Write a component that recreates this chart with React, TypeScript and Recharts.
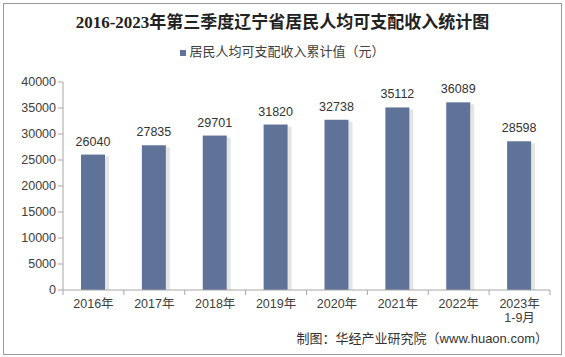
import React from 'react'
import { BarChart, Bar, XAxis, YAxis, LabelList } from 'recharts'

const years = ['2016年', '2017年', '2018年', '2019年', '2020年', '2021年', '2022年', '2023年\n1-9月']
const income = [26040, 27835, 29701, 31820, 32738, 35112, 36089, 28598]
const yTicks = [0, 5000, 10000, 15000, 20000, 25000, 30000, 35000, 40000]

const data = years.map((y, i) => ({ year: y, value: income[i] }))

const cjk = '"Liberation Sans", Arial, "Noto Sans CJK SC", sans-serif'

const ShadowBar = (props: any) =>
{
    const { x, y, width, height, fill } = props
    if (!height || height <= 0) return null
    return (
        <g>
            <rect x={x + width} y={y + 2} width={4} height={height - 2} fill="#d3d3d3" opacity={0.6} />
            <rect x={x} y={y} width={width} height={height} fill={fill} />
        </g>
    )
}

const XTick = (props: any) =>
{
    const { x, y, payload, index } = props
    const half = 60.875 / 2
    const lines = String(payload.value).split('\n')
    return (
        <g>
            <line x1={x - half} x2={x - half} y1={y - 8} y2={y - 3} stroke="#a6a6a6" />
            {index === years.length - 1 && (
                <line x1={x + half} x2={x + half} y1={y - 8} y2={y - 3} stroke="#a6a6a6" />
            )}
            {lines.map((t, i) => (
                <text key={i} x={x} y={y + 10 + i * 14} textAnchor="middle" fill="#404040" fontSize={12.5} fontFamily={cjk}>
                    {t}
                </text>
            ))}
        </g>
    )
}

export default function App()
{
    return (
        <div style={{ position: 'absolute', left: 0, top: 0, width: 565, height: 357, background: '#fff', fontFamily: cjk }}>
            <div style={{ position: 'absolute', left: 3, top: 3, width: 557, height: 350, border: '1px solid #9a9a9a' }} />
            <div style={{ position: 'absolute', left: 0, top: 8, width: 565, textAlign: 'center', fontSize: 17, fontWeight: 'bold', color: '#222', fontFamily: '"Liberation Serif", "Noto Sans CJK SC", serif' }}>
                2016-2023年第三季度辽宁省居民人均可支配收入统计图
            </div>
            <div style={{ position: 'absolute', left: 0, top: 41, width: 565, textAlign: 'center', fontSize: 13, color: '#404040' }}>
                <span style={{ display: 'inline-block', width: 6, height: 6, background: '#5f7399', marginRight: 3, verticalAlign: 'middle' }} />
                居民人均可支配收入累计值（元）
            </div>
            <BarChart
                width={565}
                height={357}
                data={data}
                margin={{ top: 82, right: 15, bottom: 37, left: 0 }}
                style={{ position: 'absolute', left: 0, top: 0 }}
            >
                <YAxis
                    width={63}
                    domain={[0, 40000]}
                    ticks={yTicks}
                    interval={0}
                    axisLine={{ stroke: '#a6a6a6' }}
                    tickLine={{ stroke: '#a6a6a6' }}
                    tickSize={5}
                    tick={{ fill: '#404040', fontSize: 12.5, fontFamily: cjk }}
                />
                <XAxis
                    dataKey="year"
                    height={30}
                    interval={0}
                    axisLine={{ stroke: '#a6a6a6' }}
                    tickLine={false}
                    tick={<XTick />}
                />
                <Bar dataKey="value" fill="#5f7399" barSize={24} shape={<ShadowBar />} isAnimationActive={false}>
                    <LabelList dataKey="value" position="top" offset={9} fill="#333" fontSize={12.5} fontFamily={cjk} />
                </Bar>
            </BarChart>
            <div style={{ position: 'absolute', right: 17, top: 328, fontSize: 13, color: '#333' }}>
                制图：华经产业研究院（www.huaon.com）
            </div>
        </div>
    )
}
